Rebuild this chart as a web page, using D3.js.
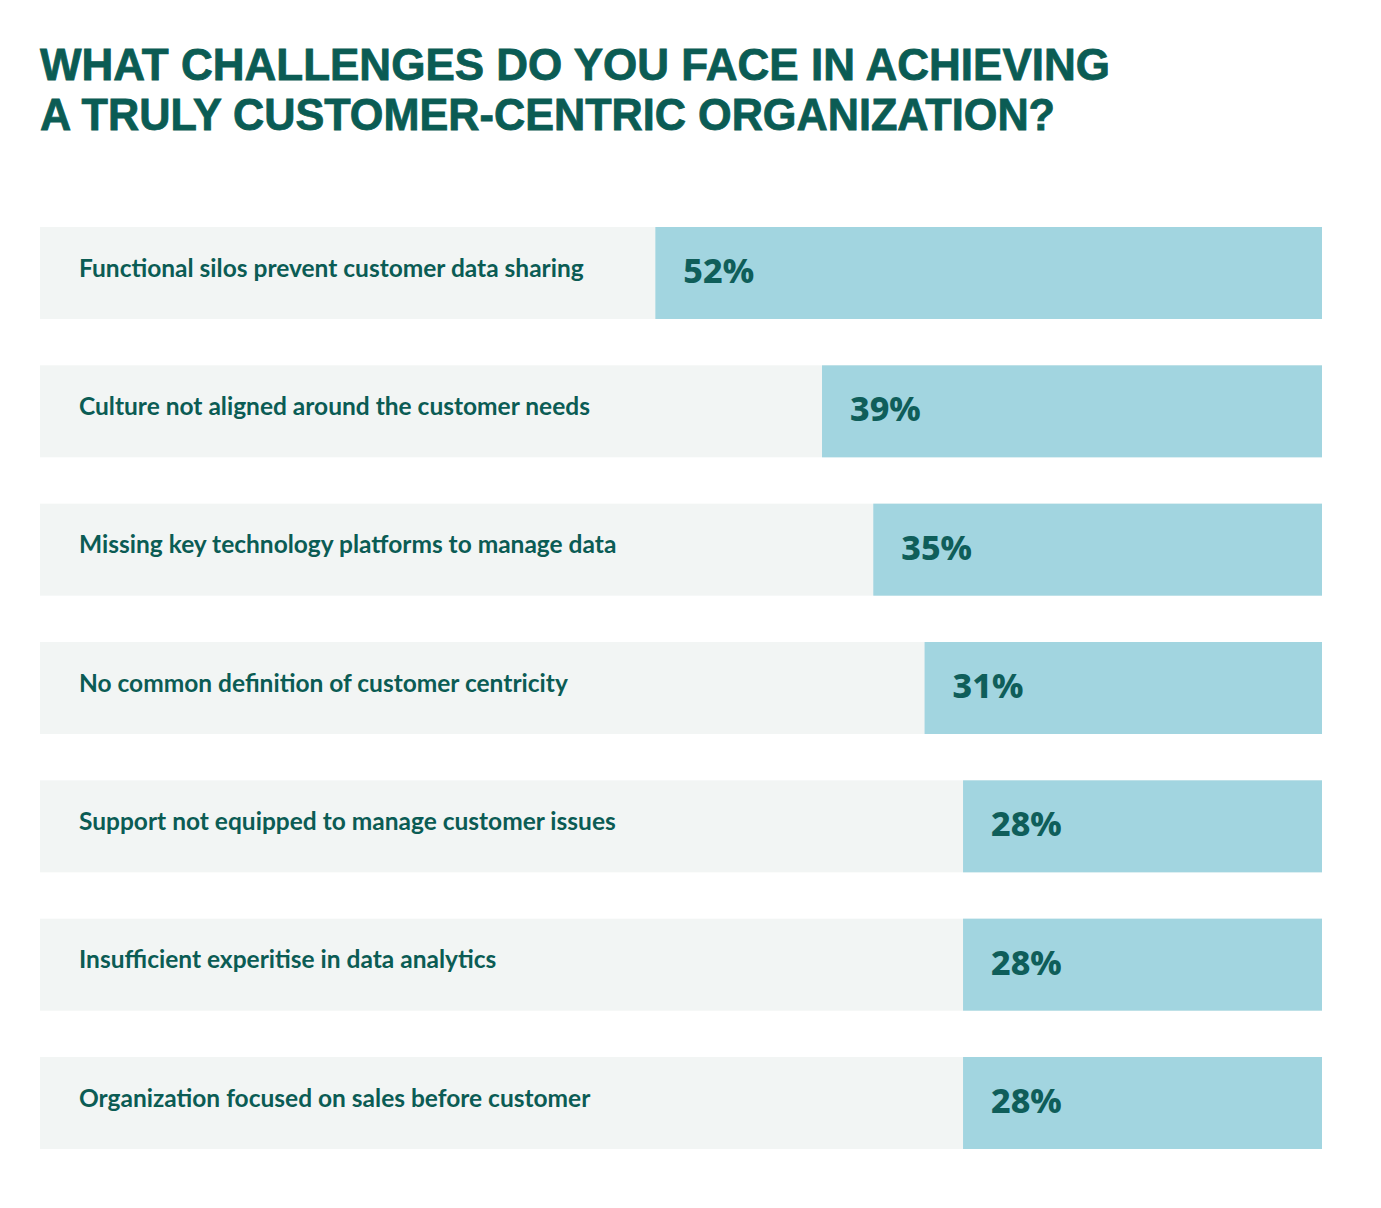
<!DOCTYPE html>
<html>
<head>
<meta charset="utf-8">
<script src="https://cdn.jsdelivr.net/npm/d3@7"></script>
<style>
  html, body { margin: 0; padding: 0; background: #fff; }
  svg { display: block; }
</style>
</head>
<body>
<svg id="canvas" width="1381" height="1208"></svg>
<script>
'use strict';

// chart values
var titleLines = ['WHAT CHALLENGES DO YOU FACE IN ACHIEVING', 'A TRULY CUSTOMER-CENTRIC ORGANIZATION?'];
var categories = [
  'Functional silos prevent customer data sharing',
  'Culture not aligned around the customer needs',
  'Missing key technology platforms to manage data',
  'No common definition of customer centricity',
  'Support not equipped to manage customer issues',
  'Insufficient experitise in data analytics',
  'Organization focused on sales before customer'
];
var values = [52, 39, 35, 31, 28, 28, 28];

var width = 1381;
var height = 1208;
var margin = {top: 227, right: 59, bottom: 59, left: 40};

var teal = '#0b5c54';
var svg = d3.select('svg#canvas');

/* title, two lines */
svg.append('g').attr('id', 'title')
  .selectAll('text')
  .data(titleLines)
  .join('text')
    .attr('x', margin.left)
    .attr('y', function(d, i){ return 80 + i * 50; })
    .attr('textLength', function(d, i){ return i === 0 ? 1070 : 1015; })
    .attr('lengthAdjust', 'spacingAndGlyphs')
    .style('font-family', '"Liberation Sans", Arial, sans-serif')
    .style('font-weight', 700)
    .style('font-size', '44px')
    .style('stroke', teal)
    .style('stroke-width', 0.8)
    .style('fill', teal)
    .text(function(d){ return d; });

/* scales: rows are bands, bars grow from the right edge */
var y = d3.scaleBand()
  .domain(categories)
  .range([margin.top, height - margin.bottom])
  .paddingInner(0.335)
  .paddingOuter(0);

var x = d3.scaleLinear()
  .domain([0, 100])
  .range([0, width - margin.left - margin.right]);

var right = width - margin.right;

var rows = svg.append('g').attr('id', 'rows')
  .selectAll('g')
  .data(categories.map(function(c, i){ return {label: c, value: values[i]}; }))
  .join('g')
    .attr('transform', function(d){ return 'translate(0,' + y(d.label) + ')'; });

rows.append('rect')
  .attr('x', margin.left)
  .attr('width', x(100))
  .attr('height', y.bandwidth())
  .style('fill', '#f2f5f4');

rows.append('rect')
  .attr('x', function(d){ return right - x(d.value); })
  .attr('width', function(d){ return x(d.value); })
  .attr('height', y.bandwidth())
  .style('fill', '#a2d5e0');

rows.append('text')
  .attr('x', 79)
  .attr('y', y.bandwidth() / 2 - 5)
  .attr('dy', '0.35em')
  .style('font-family', 'Lato, sans-serif')
  .style('font-weight', 700)
  .style('font-size', '24.5px')
  .style('fill', teal)
  .text(function(d){ return d.label; });

rows.append('text')
  .attr('x', function(d){ return right - x(d.value) + 28; })
  .attr('y', y.bandwidth() / 2 - 2)
  .attr('dy', '0.35em')
  .style('font-family', '"Noto Sans", sans-serif')
  .style('font-weight', 800)
  .style('font-size', '34px')
  .style('fill', '#0f5e5a')
  .text(function(d){ return d.value + '%'; });
</script>
</body>
</html>
